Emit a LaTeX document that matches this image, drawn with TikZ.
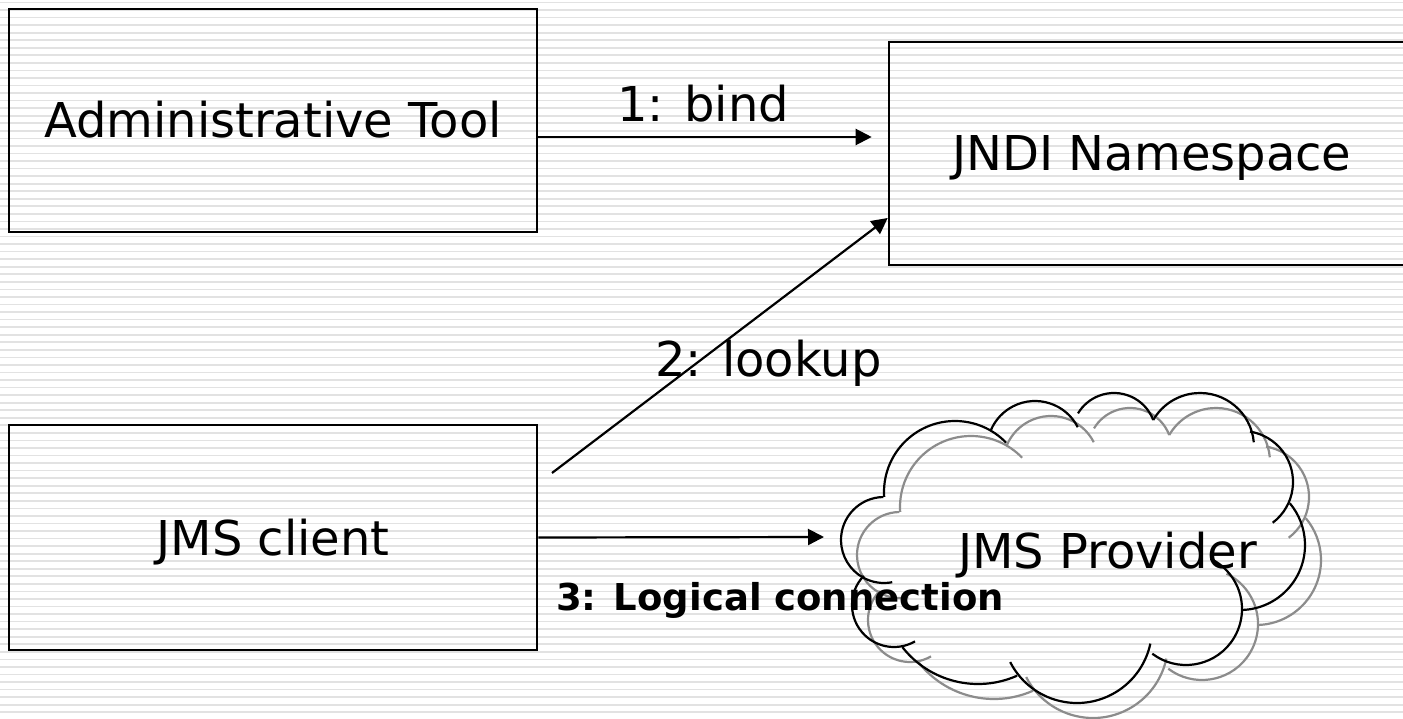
\documentclass[tikz,border=0pt]{standalone}
\usepackage{fontspec}
\setmainfont{DejaVu Sans}
\usetikzlibrary{arrows.meta,calc}
\definecolor{stripegray}{RGB}{226,226,226}
\definecolor{shadowgray}{RGB}{140,140,140}
\newcommand{\cloudlobe}[6]{\draw[#1] (#2,#3) ++(#5:#4) arc[start angle=#5, end angle=#6, radius=#4];}
\newcommand{\cloudshape}[1]{%
  \cloudlobe{#1}{884}{540}{43}{269}{79}
  \cloudlobe{#1}{894}{605}{42}{224}{60}
  \cloudlobe{#1}{978}{588}{96}{142}{66}
  \cloudlobe{#1}{1077}{628}{75}{153}{12}
  \cloudlobe{#1}{1186}{609}{56}{127}{-64}
  \cloudlobe{#1}{1240}{545}{65}{88}{-40}
  \cloudlobe{#1}{1242}{482}{51}{53}{-81}
  \cloudlobe{#1}{1200}{447}{54}{-5}{-150}
  \cloudlobe{#1}{1114}{435}{42}{-21}{-149}
  \cloudlobe{#1}{1035}{449}{48}{-27}{-157}
  \cloudlobe{#1}{955}{492}{71}{316}{176}}
\begin{document}
\begin{tikzpicture}[x=1pt,y=-1pt,
  stripe/.style={draw=stripegray, line width=1.7pt},
  boxnode/.style={draw=black, line width=2.6pt, inner sep=0pt,
    font=\fontsize{48}{58}\selectfont, text height=35pt, text depth=0pt},
  lbl/.style={font=\fontsize{48}{58}\selectfont, inner sep=0pt},
  boldlbl/.style={font=\fontsize{37}{44}\selectfont\bfseries, inner sep=0pt},
  conn/.style={draw=black, line width=2.2pt, -{Triangle[length=16pt,width=16pt]}},
  cloudline/.style={draw=black, line width=2.2pt},
  cloudshadow/.style={draw=shadowgray, line width=2.2pt}]
\useasboundingbox (0,0) rectangle (1403,719);
\fill[white] (0,0) rectangle (1403,719);
\foreach \k in {0,...,95}{
  \draw[stripe] (0,{2.5+7.55*\k}) -- (1403,{2.5+7.55*\k});
}
% cloud (shadow copy, then outline)
\begin{scope}[shift={(16,15)}]
  \cloudshape{cloudshadow}
\end{scope}
\cloudshape{cloudline}
\coordinate (cloudL) at (841,537);
\node[lbl, text height=35pt, text depth=0pt] (provider) at (1107.5,551) {JMS Provider};
% boxes
\node[boxnode, minimum width=528pt, minimum height=223pt] (admin) at (273,120.5) {Administrative Tool};
\node[boxnode, minimum width=526pt, minimum height=223pt] (jndi) at (1152,153.5) {JNDI Namespace};
\node[boxnode, minimum width=528pt, minimum height=225pt] (client) at (273,537.5) {JMS client};
% connectors
\draw[conn] (admin.east |- 0,137) -- ([xshift=-16pt]jndi.west |- 0,137);
\coordinate (lk0) at (552,473);
\draw[conn] (lk0) -- (jndi.west |- 0,218);
\draw[conn] (client.east) -- ([xshift=-17pt]cloudL);
% labels
\node[lbl, anchor=base west] (bindlbl) at (617,122) {1: bind};
\node[lbl, anchor=base west] (lookuplbl) at (655,376) {2: lookup};
\node[boldlbl, anchor=base west] (logicallbl) at (556,610) {3: Logical connection};
\end{tikzpicture}
\end{document}
